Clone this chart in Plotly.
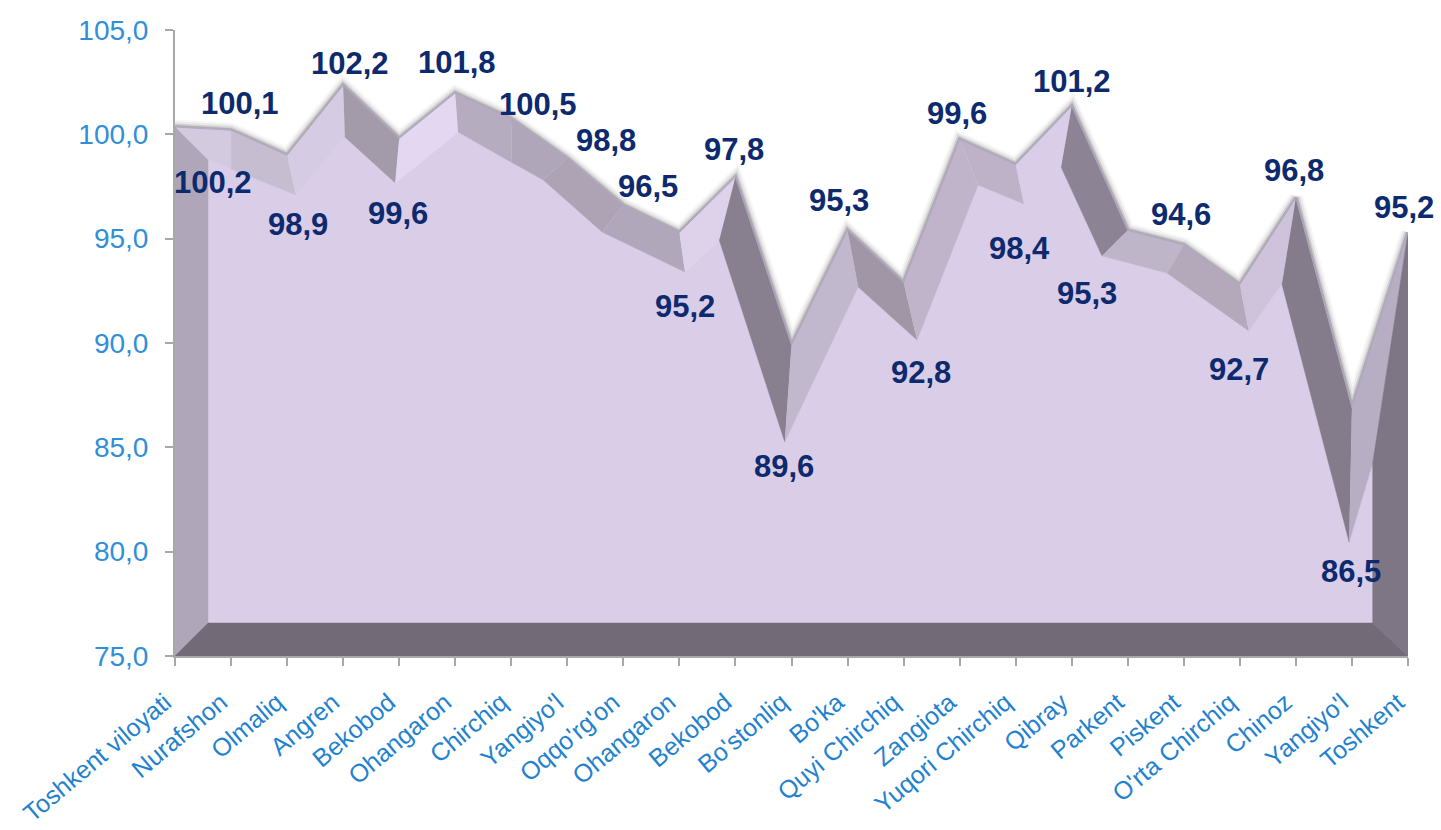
import plotly.graph_objects as go

categories = ["Toshkent viloyati", "Nurafshon", "Olmaliq", "Angren", "Bekobod", "Ohangaron", "Chirchiq",
              "Yangiyo'l", "Oqqo'rg'on", "Ohangaron", "Bekobod", "Bo'stonliq", "Bo'ka", "Quyi Chirchiq",
              "Zangiota", "Yuqori Chirchiq", "Qibray", "Parkent", "Piskent", "O'rta Chirchiq", "Chinoz",
              "Yangiyo'l", "Toshkent"]
# printed values
values = [100.2, 100.1, 98.9, 102.2, 99.6, 101.8, 100.5, 98.8, 96.5, 95.2, 97.8, 89.6,
          95.3, 92.8, 99.6, 98.4, 101.2, 95.3, 94.6, 92.7, 96.8, 86.5, 95.2]
# rim of the 3-D surface
rim_values = [100.35, 100.2, 99.0, 102.35, 99.8, 101.98, 100.75, 98.85, 96.6, 95.3, 97.95, 89.9,
              95.4, 92.9, 99.75, 98.55, 101.35, 95.4, 94.7, 92.8, 96.95, 86.9, 95.3]
# inner edge of the bevel (category position, value)
inner_pos = [0.59, 1.0, 2.16, 3.03, 3.93, 5.05, 6.01, 6.57, 7.62, 9.10, 9.71, 10.88,
             12.19, 13.24, 14.33, 15.15, 15.81, 16.54, 17.7, 19.16, 19.75, 20.95, 21.37]
inner_values = [98.77, 98.34, 97.09, 99.87, 97.67, 100.11, 98.65, 97.81, 95.32, 93.4, 94.94, 85.26,
                92.68, 90.14, 97.57, 96.66, 98.43, 94.17, 93.35, 90.58, 92.83, 80.46, 84.25]
floor_value = 76.58
y_ticks = [75, 80, 85, 90, 95, 100, 105]
y_tick_labels = ["75,0", "80,0", "85,0", "90,0", "95,0", "100,0", "105,0"]

facet_colors = ["#d3cadf", "#c7bdd1", "#d5cbe2", "#a39ba9", "#e3d7f2", "#b6acc0", "#b0a6b9", "#ada3b5",
                "#b0a7ba", "#ded1ea", "#887f8f", "#c2b8cd", "#a096a6", "#bfb4ca", "#bdb2c7", "#dacde8",
                "#8c8394", "#bfb5c9", "#b3a9bb", "#cfc3dc", "#847b8b", "#b8aec4"]
label_dx = [38, 9, 11, 7, -1, 2, 27, 39, 25, 6, -1, -8, -9, 17, -3, 4, 0, -41, -3, -1, -2, -1, -4]
label_dy = [-52, 29, -67, 25, -71, 34, 19, 19, 21, -72, 31, -115, 32, -88, 29, -81, 28, -61, 33, -83, 31, -155, 27]

n = len(categories)
idx = list(range(n))
fig = go.Figure()


def poly(xs, ys, color):
    fig.add_trace(go.Scatter(x=xs, y=ys, mode="lines", fill="toself", fillcolor=color,
                             line=dict(color=color, width=0.5), hoverinfo="skip", showlegend=False))


# soft shadow along the rim
for w, a in [(15, 0.04), (11, 0.07), (7, 0.12), (4, 0.2)]:
    fig.add_trace(go.Scatter(x=idx, y=rim_values, mode="lines", line=dict(color=f"rgba(40,40,40,{a})", width=w),
                             hoverinfo="skip", showlegend=False))

# front wall
poly(inner_pos + [inner_pos[-1], inner_pos[0]], inner_values + [floor_value, floor_value], "#dacde8")

# bevel facets
for i in range(n - 1):
    poly([idx[i], idx[i + 1], inner_pos[i + 1], inner_pos[i]],
         [rim_values[i], rim_values[i + 1], inner_values[i + 1], inner_values[i]], facet_colors[i])

# left, right, bottom faces
poly([0, inner_pos[0], inner_pos[0], 0], [rim_values[0], inner_values[0], floor_value, 75], "#b0a6ba")
poly([n - 1, inner_pos[-1], inner_pos[-1], n - 1], [rim_values[-1], inner_values[-1], floor_value, 75], "#7e7684")
poly([0, inner_pos[0], inner_pos[-1], n - 1], [75, floor_value, floor_value, 75], "#726a76")

# rim line
fig.add_trace(go.Scatter(x=idx, y=rim_values, mode="lines", line=dict(color="#b3a5c9", width=1),
                         hoverinfo="skip", showlegend=False))

for i, v in enumerate(values):
    fig.add_annotation(x=i, y=v, xref="x", yref="y", text=f"{v:.1f}".replace(".", ","), showarrow=False,
                       xshift=label_dx[i], yshift=label_dy[i], xanchor="center", yanchor="middle",
                       font=dict(family="Liberation Sans", size=31, color="#0d2a6e", weight="bold"))

fig.update_layout(
    width=1441, height=830, autosize=False, margin=dict(l=175, r=33, t=30, b=174),
    plot_bgcolor="white", paper_bgcolor="white", showlegend=False,
    font=dict(family="Liberation Sans"),
    xaxis=dict(range=[0, n - 1], tickmode="array", tickvals=idx, ticktext=categories, tickangle=-40,
               ticks="outside", ticklen=8, tickwidth=2, tickcolor="#a8a8a8", showline=True, linecolor="#a8a8a8",
               linewidth=2, showgrid=False, zeroline=False, tickfont=dict(size=25, color="#1f82cf"),
               ticklabelstandoff=12, ticklabelshift=-10, automargin=False),
    yaxis=dict(range=[75, 105], tickmode="array", tickvals=y_ticks, ticktext=y_tick_labels, ticks="outside",
               ticklen=8, tickwidth=2, tickcolor="#a8a8a8", showline=True, linecolor="#a8a8a8", linewidth=2,
               showgrid=False, zeroline=False, tickfont=dict(size=28, color="#2f8fd8"), ticklabelstandoff=11,
               automargin=False),
)

fig.write_html("out.html", config={"displayModeBar": False},
               post_script="document.body.style.margin='0';document.body.style.overflow='hidden';")
